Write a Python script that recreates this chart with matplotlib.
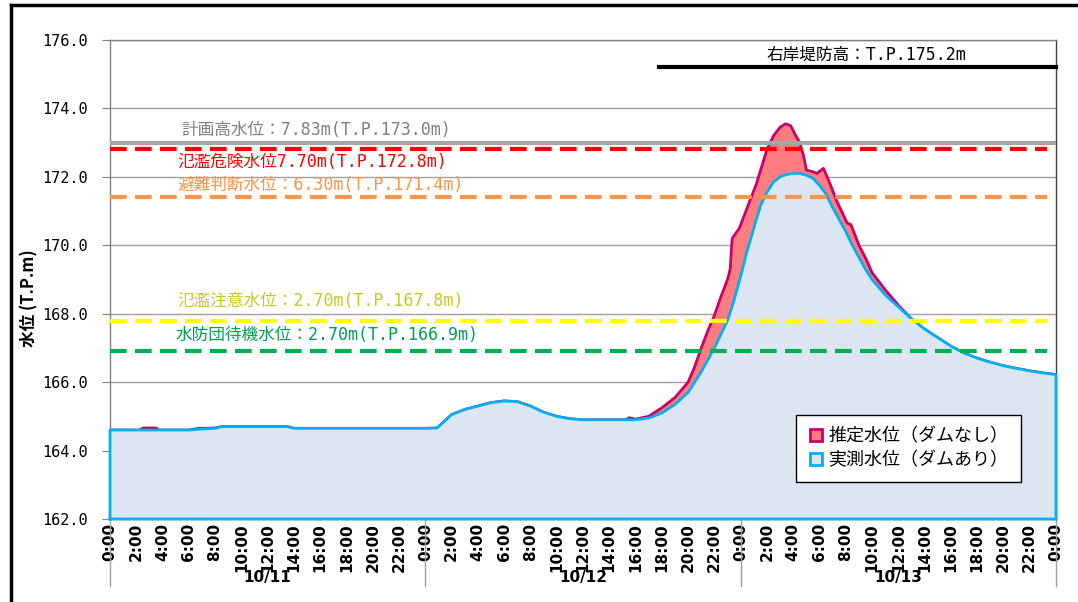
import numpy as np
import matplotlib
matplotlib.use("Agg")
import matplotlib.pyplot as plt
from matplotlib.lines import Line2D
import matplotlib.transforms as mtransforms

plt.rcParams['font.family'] = ['Noto Sans CJK JP', 'DejaVu Sans']
mono_jp = ['DejaVu Sans Mono', 'Noto Sans CJK JP']

# hours from 10/11 0:00
hours_meas = [0, 6, 7, 8, 8.5, 13.5, 14, 24, 24.9, 26, 27, 28, 29, 30, 31, 32, 33, 34, 35, 36,
              40, 41, 42, 43, 44, 45, 46, 47, 47.5, 48, 48.5, 49, 49.5, 50, 50.5, 51, 51.5, 52,
              52.5, 53, 53.5, 54, 54.5, 55, 55.5, 56, 56.5, 57, 57.5, 58, 59, 60, 61, 62, 63, 64,
              65, 66, 67, 68, 69, 70, 71, 72]
level_meas = [164.6, 164.6, 164.63, 164.65, 164.7, 164.7, 164.65, 164.65, 164.66, 165.05, 165.2,
              165.3, 165.4, 165.45, 165.43, 165.3, 165.12, 165.0, 164.93, 164.9,
              164.9, 164.95, 165.1, 165.35, 165.7, 166.3, 167.0, 167.8, 168.4, 169.1, 169.85,
              170.5, 171.15, 171.55, 171.85, 172.0, 172.07, 172.1, 172.1, 172.05, 171.96, 171.75,
              171.5, 171.1, 170.75, 170.4, 170.0, 169.65, 169.3, 169.0, 168.55, 168.2, 167.85,
              167.55, 167.3, 167.05, 166.85, 166.7, 166.58, 166.48, 166.4, 166.33, 166.27, 166.22]

hours_est = [0, 2.3, 2.5, 3.5, 3.7, 6, 6.8, 7, 8, 8.5, 13.5, 14, 24, 24.9, 26, 27, 28, 29, 30, 31,
             32, 33, 34, 35, 36, 39.3, 39.5, 40, 41, 42, 43, 44, 44.5, 45, 45.5, 46, 46.5, 47,
             47.2, 47.35, 47.9, 48.5, 49.2, 49.6, 50, 50.5, 51, 51.4, 51.8, 52.2, 52.5, 52.8, 53,
             53.5, 53.8, 54.3, 54.8, 55.3, 55.8, 56.1, 56.4, 57, 57.6, 58, 59, 60, 61, 62, 63, 64,
             65, 66, 67, 68, 69, 70, 71, 72]
level_est = [164.6, 164.6, 164.66, 164.66, 164.6, 164.6, 164.65, 164.65, 164.66, 164.7, 164.7,
             164.65, 164.65, 164.66, 165.05, 165.2, 165.3, 165.4, 165.45, 165.43, 165.3, 165.12,
             165.0, 164.93, 164.9, 164.9, 164.96, 164.92, 165.0, 165.25, 165.55, 166.0, 166.45,
             167.0, 167.5, 167.95, 168.5, 169.0, 169.3, 170.2, 170.5, 171.1, 171.8, 172.3, 172.8,
             173.2, 173.45, 173.55, 173.5, 173.2, 173.0, 172.6, 172.2, 172.15, 172.1, 172.25,
             171.8, 171.3, 170.9, 170.65, 170.6, 170.0, 169.55, 169.2, 168.7, 168.25, 167.85,
             167.55, 167.3, 167.05, 166.85, 166.7, 166.58, 166.48, 166.4, 166.33, 166.27, 166.22]

# reference levels
levee_level = 175.2
plan_level = 173.0
danger_level = 172.8
evac_level = 171.4
caution_level = 167.8
standby_level = 166.9

dates = ["10/11", "10/12", "10/13"]

fig = plt.figure(figsize=(10.78, 6.02), dpi=100)
fig.patch.set_facecolor("white")
# outer frame (top and left visible)
fig.add_artist(Line2D([11 / 1078, 11 / 1078], [0, 1 - 5 / 602], color="black", lw=2.5))
fig.add_artist(Line2D([11 / 1078, 1], [1 - 5 / 602, 1 - 5 / 602], color="black", lw=2.5))

ax = fig.add_axes([110 / 1078, 1 - 519 / 602, 946 / 1078, 479 / 602])
ax.set_xlim(0, 72)
ax.set_ylim(162, 176)

# estimated (no dam)
xe = np.array(hours_est)
ye = np.array(level_est)
ax.fill_between(xe, 162, ye, color="#ff7c80", lw=0, zorder=2)
ax.plot(xe, ye, color="#cc0066", lw=2, zorder=3)

# measured (with dam)
xm = np.array(hours_meas)
ym = np.array(level_meas)
ax.fill_between(xm, 162, ym, color="#dce6f2", lw=0, zorder=4)
ax.plot(np.r_[0, xm, 72, 0], np.r_[162, ym, 162, 162], color="#00b0f0", lw=2, zorder=5,
        clip_on=False)

# gridlines
ax.set_yticks(np.arange(162, 176.1, 2))
ax.set_yticklabels(["%.1f" % v for v in np.arange(162, 176.1, 2)], fontsize=11,
                   family="DejaVu Sans Mono")
ax.yaxis.grid(True, color="#a0a0a0", lw=1)
ax.set_axisbelow(True)
ax.tick_params(axis="y", length=6, color="#808080", pad=10)

ax.set_xticks(np.arange(0, 73, 2))
ax.set_xticklabels(["%d:00" % (h % 24) for h in range(0, 73, 2)], rotation=90,
                   fontsize=11, fontweight="bold", family="DejaVu Sans")
ax.tick_params(axis="x", length=0, pad=3)

for s in ["left", "top"]:
    ax.spines[s].set_color("#808080")
ax.spines["right"].set_color("#404040")
ax.spines["bottom"].set_color("#808080")
for s in ax.spines.values():
    s.set_linewidth(1)

# horizontal reference lines
ax.plot([41.8, 72], [levee_level] * 2, color="black", lw=3, zorder=6, clip_on=False)
ax.axhline(plan_level, color="#a6a6a6", lw=3, zorder=6)
ax.axhline(danger_level, xmax=0.99, color="#ff0000", lw=3, ls=(0, (4, 2)), zorder=7)
ax.axhline(evac_level, xmax=0.99, color="#f79646", lw=3, ls=(0, (4, 2)), zorder=7)
ax.axhline(caution_level, xmax=0.99, color="#ffff00", lw=3, ls=(0, (4, 2)), zorder=7)
ax.axhline(standby_level, xmax=0.99, color="#00b050", lw=3, ls=(0, (4, 2)), zorder=7)

ax.text(57.6, 175.56, "右岸堤防高：T.P.175.2m", ha="center", va="center", fontsize=12,
        color="black", zorder=8, family=mono_jp)
ax.text(5.4, 173.37, "計画高水位：7.83m(T.P.173.0m)", ha="left", va="center", fontsize=12,
        color="#808080", zorder=8, family=mono_jp)
ax.text(5.1, 172.43, "氾濫危険水位7.70m(T.P.172.8m)", ha="left", va="center", fontsize=12,
        color="#ff0000", zorder=8, family=mono_jp)
ax.text(5.1, 171.76, "避難判断水位：6.30m(T.P.171.4m)", ha="left", va="center", fontsize=12,
        color="#f79646", zorder=8, family=mono_jp)
ax.text(5.1, 168.37, "氾濫注意水位：2.70m(T.P.167.8m)", ha="left", va="center", fontsize=12,
        color="#c8c820", zorder=8, family=mono_jp)
ax.text(4.95, 167.37, "水防団待機水位：2.70m(T.P.166.9m)", ha="left", va="center", fontsize=12,
        color="#00a050", zorder=8, family=mono_jp)

ax.set_ylabel("水位 (T.P.m)", fontsize=12, fontweight="bold")
ax.yaxis.set_label_coords(-0.076, 0.46)

# date labels and separators
trans = mtransforms.blended_transform_factory(ax.transData, ax.transAxes)
for i, d in enumerate(dates):
    ax.text(12 + 24 * i, -0.123, d, transform=trans, ha="center", va="center",
            fontsize=11, fontweight="bold", family="DejaVu Sans")
for x in [0, 24, 48, 72]:
    ax.plot([x, x], [0, -0.14], transform=trans, color="#a0a0a0", lw=1, clip_on=False)

handles = [
    Line2D([], [], ls="none", marker="s", markersize=8, markerfacecolor="#ff7c80",
           markeredgecolor="#cc0066", markeredgewidth=2, label="推定水位（ダムなし）"),
    Line2D([], [], ls="none", marker="s", markersize=8, markerfacecolor="#dce6f2",
           markeredgecolor="#00b0f0", markeredgewidth=2, label="実測水位（ダムあり）"),
]
leg = ax.legend(handles=handles, loc="upper left", bbox_to_anchor=(0.725, 0.217),
                fontsize=13, frameon=True, fancybox=False, edgecolor="black",
                framealpha=1, handlelength=0.8, handletextpad=0.3, borderpad=0.7,
                labelspacing=0.3, borderaxespad=0)
leg.get_frame().set_linewidth(1)
leg.set_zorder(10)

fig.savefig("out.png", dpi=100)
